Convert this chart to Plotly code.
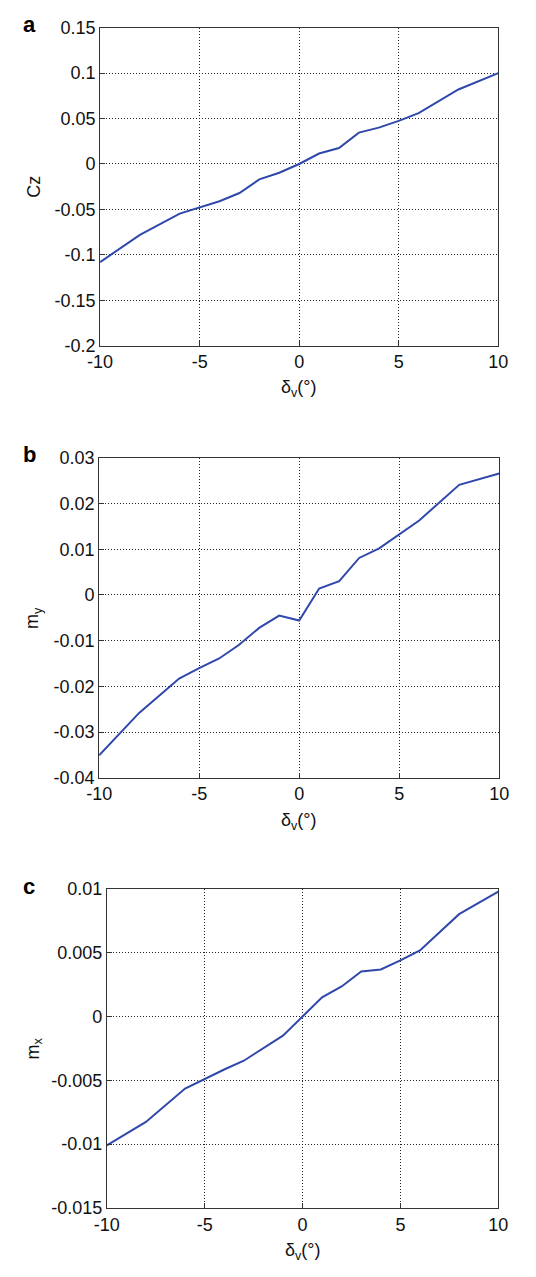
import plotly.graph_objects as go

W, H = 536, 1277

# Data
x_a = [-10, -8, -6, -4, -3, -2, -1, 0, 1, 2, 3, 4, 5, 6, 8, 10]
cz = [-0.108, -0.078, -0.0547, -0.041, -0.032, -0.017, -0.0097, 0.0, 0.0115, 0.0176,
      0.0345, 0.040, 0.0475, 0.056, 0.082, 0.100]

x_b = [-10, -8, -6, -5, -4, -3, -2, -1, 0, 1, 2, 3, 4, 6, 8, 10]
my = [-0.0351, -0.0258, -0.0183, -0.0160, -0.0139, -0.0109, -0.0072, -0.0045, -0.0056,
      0.0014, 0.0030, 0.0081, 0.0102, 0.0163, 0.0241, 0.0266]

x_c = [-10, -8, -6, -5, -4, -3, -2, -1, 0, 1, 2, 3, 4, 5, 6, 8, 10]
mx = [-0.0101, -0.00826, -0.00564, -0.00487, -0.00415, -0.00346, -0.00246, -0.00149, 0.0,
      0.00151, 0.00236, 0.00354, 0.00369, 0.0044, 0.00518, 0.00803, 0.0098]

x_ticks = [-10, -5, 0, 5, 10]
x_ticktext = ["-10", "-5", "0", "5", "10"]
a_ticks = [-0.2, -0.15, -0.1, -0.05, 0, 0.05, 0.1, 0.15]
a_ticktext = ["-0.2", "-0.15", "-0.1", "-0.05", "0", "0.05", "0.1", "0.15"]
b_ticks = [-0.04, -0.03, -0.02, -0.01, 0, 0.01, 0.02, 0.03]
b_ticktext = ["-0.04", "-0.03", "-0.02", "-0.01", "0", "0.01", "0.02", "0.03"]
c_ticks = [-0.015, -0.01, -0.005, 0, 0.005, 0.01]
c_ticktext = ["-0.015", "-0.01", "-0.005", "0", "0.005", "0.01"]

LINE = "#3048ab"
FONT = "Liberation Sans, Arial, sans-serif"
TXT = "#111111"

# panel pixel boxes: (left, right, top, bottom)
boxes = [(91, 507, 18, 341), (90, 508, 455, 780), (98, 507, 893, 1217)]

def px_x(p):
    return p / W

def px_y(p):
    return 1 - p / H

fig = go.Figure()
series = [(x_a, cz), (x_b, my), (x_c, mx)]
yranges = [[-0.2, 0.15], [-0.04, 0.03], [-0.015, 0.01]]
yticks = [(a_ticks, a_ticktext), (b_ticks, b_ticktext), (c_ticks, c_ticktext)]
ytitles = ["Cz", "m<sub>y</sub>", "m<sub>x</sub>"]
letters = ["a", "b", "c"]

axis_common = dict(
    showline=True, linecolor="#333333", linewidth=1, mirror=True,
    ticks="inside", ticklen=5, tickcolor="#333333",
    showgrid=True, gridcolor="#222222", griddash="1px,2px", gridwidth=1,
    zeroline=False,
    tickfont=dict(family=FONT, size=18, color=TXT),
)

annotations = []
for i, ((xs, ys), (l, r, t, b)) in enumerate(zip(series, boxes)):
    n = "" if i == 0 else str(i + 1)
    fig.add_trace(go.Scatter(x=xs, y=ys, mode="lines",
                             line=dict(color=LINE, width=2),
                             xaxis="x" + n, yaxis="y" + n, showlegend=False,
                             hoverinfo="skip"))
    fig.update_layout(**{
        "xaxis" + n: dict(domain=[px_x(l), px_x(r)], range=[-10, 10],
                          tickvals=x_ticks, ticktext=x_ticktext,
                          anchor="y" + n, **axis_common),
        "yaxis" + n: dict(domain=[px_y(b), px_y(t)], range=yranges[i],
                          tickvals=yticks[i][0], ticktext=yticks[i][1],
                          anchor="x" + n, **axis_common),
    })
    # y title
    annotations.append(dict(text=ytitles[i], x=px_x(22), y=px_y((t + b) / 2),
                            xref="paper", yref="paper", showarrow=False,
                            textangle=-90, xanchor="center", yanchor="middle",
                            font=dict(family=FONT, size=18, color=TXT)))
    # x title
    annotations.append(dict(text="δ<sub>v</sub>(°)", x=px_x((l + r) / 2), y=px_y(b + 44),
                            xref="paper", yref="paper", showarrow=False,
                            xanchor="center", yanchor="middle",
                            font=dict(family=FONT, size=18, color=TXT)))
    # panel letter
    annotations.append(dict(text="<b>" + letters[i] + "</b>", x=px_x(8), y=px_y(t - 3),
                            xref="paper", yref="paper", showarrow=False,
                            xanchor="left", yanchor="middle",
                            font=dict(family=FONT, size=22, color="#000000")))

fig.update_layout(width=W, height=H, margin=dict(l=0, r=0, t=0, b=0),
                  paper_bgcolor="white", plot_bgcolor="white",
                  annotations=annotations)

fig.write_html("out.html", config={"displayModeBar": False},
               post_script="document.body.style.margin='0';")
